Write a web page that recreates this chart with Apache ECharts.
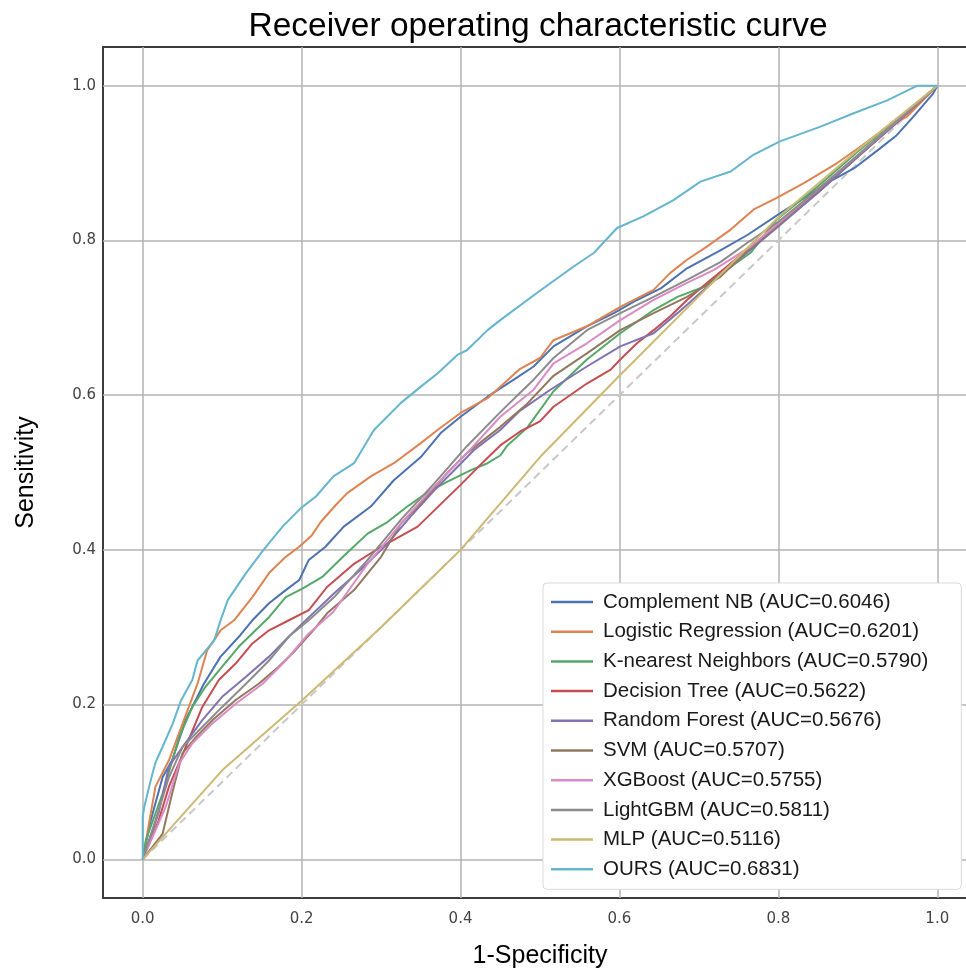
<!DOCTYPE html>
<html>
<head>
<meta charset="utf-8">
<script src="https://cdn.jsdelivr.net/npm/echarts@6/dist/echarts.min.js"></script>
<style>html,body{margin:0;padding:0;background:#fff;}#chart{width:966px;height:969px;}</style>
</head>
<body>
<div id="chart"></div>
<script>
// ---- data (x = 1-Specificity, y = Sensitivity) ----
const seriesNames = [
  'Complement NB (AUC=0.6046)',
  'Logistic Regression (AUC=0.6201)',
  'K-nearest Neighbors (AUC=0.5790)',
  'Decision Tree (AUC=0.5622)',
  'Random Forest (AUC=0.5676)',
  'SVM (AUC=0.5707)',
  'XGBoost (AUC=0.5755)',
  'LightGBM (AUC=0.5811)',
  'MLP (AUC=0.5116)',
  'OURS (AUC=0.6831)'
];
const seriesColors = ['#4C72B0','#DD8452','#55A868','#C44E52','#8172B3','#937860','#DA8BC3','#8C8C8C','#CCB974','#64B5CD'];
const xTicks = [0.0, 0.2, 0.4, 0.6, 0.8, 1.0];
const yTicks = [0.0, 0.2, 0.4, 0.6, 0.8, 1.0];
const chanceLine = [[0,0],[1,1]];

const complementNB = [[0,0],[0.01,0.05],[0.025,0.106],[0.037,0.128],[0.054,0.18],[0.077,0.227],[0.098,0.262],[0.123,0.29],[0.138,0.309],[0.159,0.331],[0.18,0.348],[0.197,0.361],[0.209,0.387],[0.23,0.404],[0.253,0.43],[0.287,0.456],[0.316,0.49],[0.35,0.52],[0.375,0.551],[0.40,0.572],[0.434,0.598],[0.467,0.62],[0.492,0.637],[0.517,0.663],[0.559,0.689],[0.593,0.706],[0.622,0.723],[0.652,0.738],[0.685,0.764],[0.727,0.787],[0.761,0.807],[0.802,0.835],[0.836,0.857],[0.861,0.874],[0.895,0.893],[0.928,0.919],[0.949,0.936],[0.970,0.96],[0.995,0.99],[1,1]];
const logisticRegression = [[0,0],[0.016,0.094],[0.033,0.128],[0.05,0.175],[0.069,0.227],[0.081,0.27],[0.098,0.296],[0.115,0.309],[0.138,0.339],[0.159,0.37],[0.18,0.391],[0.197,0.404],[0.213,0.419],[0.224,0.436],[0.243,0.458],[0.257,0.473],[0.287,0.495],[0.316,0.512],[0.35,0.538],[0.371,0.555],[0.40,0.577],[0.434,0.596],[0.475,0.634],[0.50,0.648],[0.517,0.671],[0.559,0.689],[0.601,0.714],[0.643,0.736],[0.664,0.758],[0.685,0.775],[0.71,0.792],[0.74,0.814],[0.769,0.84],[0.798,0.855],[0.832,0.874],[0.874,0.90],[0.903,0.921],[0.937,0.947],[0.962,0.96],[1,1]];
const kNearest = [[0,0],[0.004,0.025],[0.025,0.085],[0.046,0.158],[0.0625,0.197],[0.079,0.223],[0.10,0.249],[0.121,0.275],[0.142,0.296],[0.159,0.313],[0.18,0.339],[0.201,0.35],[0.226,0.365],[0.243,0.382],[0.253,0.392],[0.283,0.421],[0.308,0.436],[0.333,0.456],[0.358,0.474],[0.383,0.488],[0.413,0.503],[0.434,0.512],[0.45,0.522],[0.459,0.535],[0.484,0.558],[0.517,0.605],[0.559,0.646],[0.601,0.68],[0.643,0.71],[0.673,0.727],[0.706,0.74],[0.735,0.762],[0.765,0.784],[0.798,0.827],[0.85,0.87],[0.9,0.915],[0.95,0.957],[1,1]];
const decisionTree = [[0,0],[0.02,0.05],[0.033,0.094],[0.054,0.145],[0.075,0.197],[0.096,0.232],[0.117,0.253],[0.138,0.279],[0.159,0.296],[0.184,0.309],[0.209,0.322],[0.232,0.352],[0.266,0.382],[0.30,0.404],[0.316,0.413],[0.346,0.43],[0.367,0.451],[0.40,0.484],[0.429,0.514],[0.45,0.535],[0.475,0.553],[0.50,0.566],[0.517,0.585],[0.559,0.615],[0.589,0.633],[0.601,0.646],[0.622,0.667],[0.643,0.684],[0.664,0.702],[0.685,0.723],[0.71,0.745],[0.735,0.766],[0.765,0.792],[0.8,0.82],[0.85,0.862],[0.9,0.908],[0.95,0.953],[1,1]];
const randomForest = [[0,0],[0.02,0.06],[0.033,0.12],[0.05,0.145],[0.075,0.18],[0.10,0.21],[0.13,0.236],[0.159,0.262],[0.184,0.288],[0.201,0.305],[0.241,0.344],[0.274,0.374],[0.308,0.408],[0.337,0.443],[0.367,0.477],[0.392,0.503],[0.417,0.529],[0.45,0.555],[0.475,0.58],[0.513,0.607],[0.559,0.637],[0.601,0.663],[0.643,0.68],[0.673,0.706],[0.706,0.736],[0.735,0.762],[0.765,0.788],[0.8,0.818],[0.85,0.862],[0.9,0.908],[0.95,0.953],[1,1]];
const svm = [[0,0],[0.025,0.033],[0.037,0.085],[0.05,0.137],[0.067,0.158],[0.088,0.18],[0.117,0.206],[0.146,0.227],[0.171,0.249],[0.192,0.27],[0.218,0.30],[0.232,0.318],[0.266,0.348],[0.30,0.391],[0.325,0.434],[0.35,0.46],[0.383,0.499],[0.408,0.525],[0.45,0.559],[0.484,0.589],[0.517,0.625],[0.559,0.654],[0.601,0.684],[0.643,0.706],[0.685,0.727],[0.727,0.753],[0.765,0.79],[0.8,0.82],[0.85,0.865],[0.9,0.91],[0.95,0.955],[1,1]];
const xgboost = [[0,0],[0.029,0.068],[0.046,0.124],[0.0625,0.15],[0.088,0.176],[0.117,0.201],[0.151,0.227],[0.18,0.257],[0.209,0.292],[0.24,0.32],[0.283,0.382],[0.325,0.434],[0.367,0.482],[0.408,0.525],[0.45,0.572],[0.492,0.607],[0.517,0.641],[0.559,0.667],[0.601,0.697],[0.643,0.723],[0.685,0.745],[0.719,0.762],[0.765,0.792],[0.8,0.822],[0.85,0.866],[0.9,0.91],[0.95,0.955],[1,1]];
const lightGBM = [[0,0],[0.016,0.05],[0.033,0.106],[0.05,0.145],[0.075,0.171],[0.10,0.197],[0.13,0.227],[0.159,0.257],[0.184,0.288],[0.21,0.31],[0.241,0.339],[0.283,0.387],[0.325,0.439],[0.367,0.486],[0.408,0.534],[0.45,0.578],[0.475,0.603],[0.492,0.62],[0.517,0.648],[0.559,0.684],[0.601,0.706],[0.643,0.727],[0.685,0.749],[0.727,0.772],[0.761,0.797],[0.8,0.824],[0.85,0.866],[0.9,0.91],[0.95,0.955],[1,1]];
const mlp = [[0,0],[0.1,0.115],[0.2,0.205],[0.3,0.3],[0.4,0.40],[0.5,0.52],[0.6,0.625],[0.7,0.728],[0.8,0.83],[0.9,0.917],[1,1]];
const ours = [[0,0],[0,0.055],[0.002,0.068],[0.01,0.102],[0.016,0.125],[0.027,0.15],[0.038,0.176],[0.048,0.205],[0.0625,0.232],[0.069,0.257],[0.09,0.283],[0.098,0.309],[0.107,0.335],[0.13,0.37],[0.152,0.40],[0.176,0.43],[0.199,0.454],[0.218,0.469],[0.240,0.495],[0.266,0.512],[0.291,0.555],[0.325,0.59],[0.35,0.611],[0.371,0.628],[0.396,0.652],[0.408,0.658],[0.434,0.684],[0.45,0.697],[0.496,0.732],[0.542,0.766],[0.568,0.784],[0.597,0.816],[0.630,0.831],[0.668,0.852],[0.702,0.876],[0.74,0.889],[0.769,0.911],[0.802,0.928],[0.853,0.947],[0.894,0.964],[0.937,0.981],[0.975,1.0],[1,1]];

const seriesData = [complementNB, logisticRegression, kNearest, decisionTree, randomForest, svm, xgboost, lightGBM, mlp, ours];

// ---- chart ----
const chart = echarts.init(document.getElementById('chart'), null, {renderer: 'canvas'});
const tickFormatter = (ticks) => (v) => {
  for (const t of ticks) { if (Math.abs(v - t) < 1e-6) return t.toFixed(1); }
  return '';
};
const gridColors = ['rgba(0,0,0,0)', '#b3b3b3', 'rgba(0,0,0,0)', 'rgba(0,0,0,0)'];
const axisCommon = {
  type: 'value', min: -0.05, max: 1.05, interval: 0.05,
  axisLine: {show: false}, axisTick: {show: false},
  splitLine: {show: true, showMinLine: true, showMaxLine: true, lineStyle: {color: gridColors, width: 1.5}},
  nameLocation: 'middle',
  nameTextStyle: {fontFamily: 'Liberation Sans', fontSize: 25, color: '#000'}
};

const series = [{
  name: 'chance', type: 'line', data: chanceLine, showSymbol: false, silent: true,
  lineStyle: {color: '#c8c8c8', width: 2, type: [8, 5]}, z: 1
}];
seriesNames.forEach((n, i) => {
  series.push({
    name: n, type: 'line', data: seriesData[i], showSymbol: false, symbol: 'none',
    lineStyle: {color: seriesColors[i], width: 2}, itemStyle: {color: seriesColors[i]}, z: 2 + i
  });
});

chart.setOption({
  animation: false,
  backgroundColor: '#fff',
  title: {
    text: 'Receiver operating characteristic curve',
    left: 533, top: 5, textAlign: 'center',
    textStyle: {fontFamily: 'Liberation Sans', fontSize: 33.5, fontWeight: 'normal', color: '#000'}
  },
  grid: {left: 103, top: 47, right: -11, bottom: 71, outerBoundsMode: 'none', containLabel: false,
    show: true, borderColor: '#3c3c3c', borderWidth: 2, backgroundColor: 'rgba(0,0,0,0)'},
  xAxis: Object.assign({}, axisCommon, {
    name: '1-Specificity', nameGap: 46,
    axisLabel: {formatter: tickFormatter(xTicks), margin: 14, fontFamily: 'DejaVu Sans', fontSize: 15, color: '#444'}
  }),
  yAxis: Object.assign({}, axisCommon, {
    name: 'Sensitivity', nameGap: 64,
    axisLabel: {formatter: tickFormatter(yTicks), margin: 7, fontFamily: 'DejaVu Sans', fontSize: 15, color: '#444'}
  }),
  legend: {
    data: seriesNames, orient: 'vertical', left: 543, top: 583,
    icon: 'rect', itemWidth: 42, itemHeight: 2.5, itemGap: 5.7,
    padding: [7, 33, 8, 8],
    backgroundColor: '#fff', borderColor: '#d9d9d9', borderWidth: 1, borderRadius: 4,
    textStyle: {fontFamily: 'Liberation Sans', fontSize: 20.5, color: '#1a1a1a', lineHeight: 24, padding: [0, 0, 0, 5]},
    selectedMode: false
  },
  series: series
});
</script>
</body>
</html>
